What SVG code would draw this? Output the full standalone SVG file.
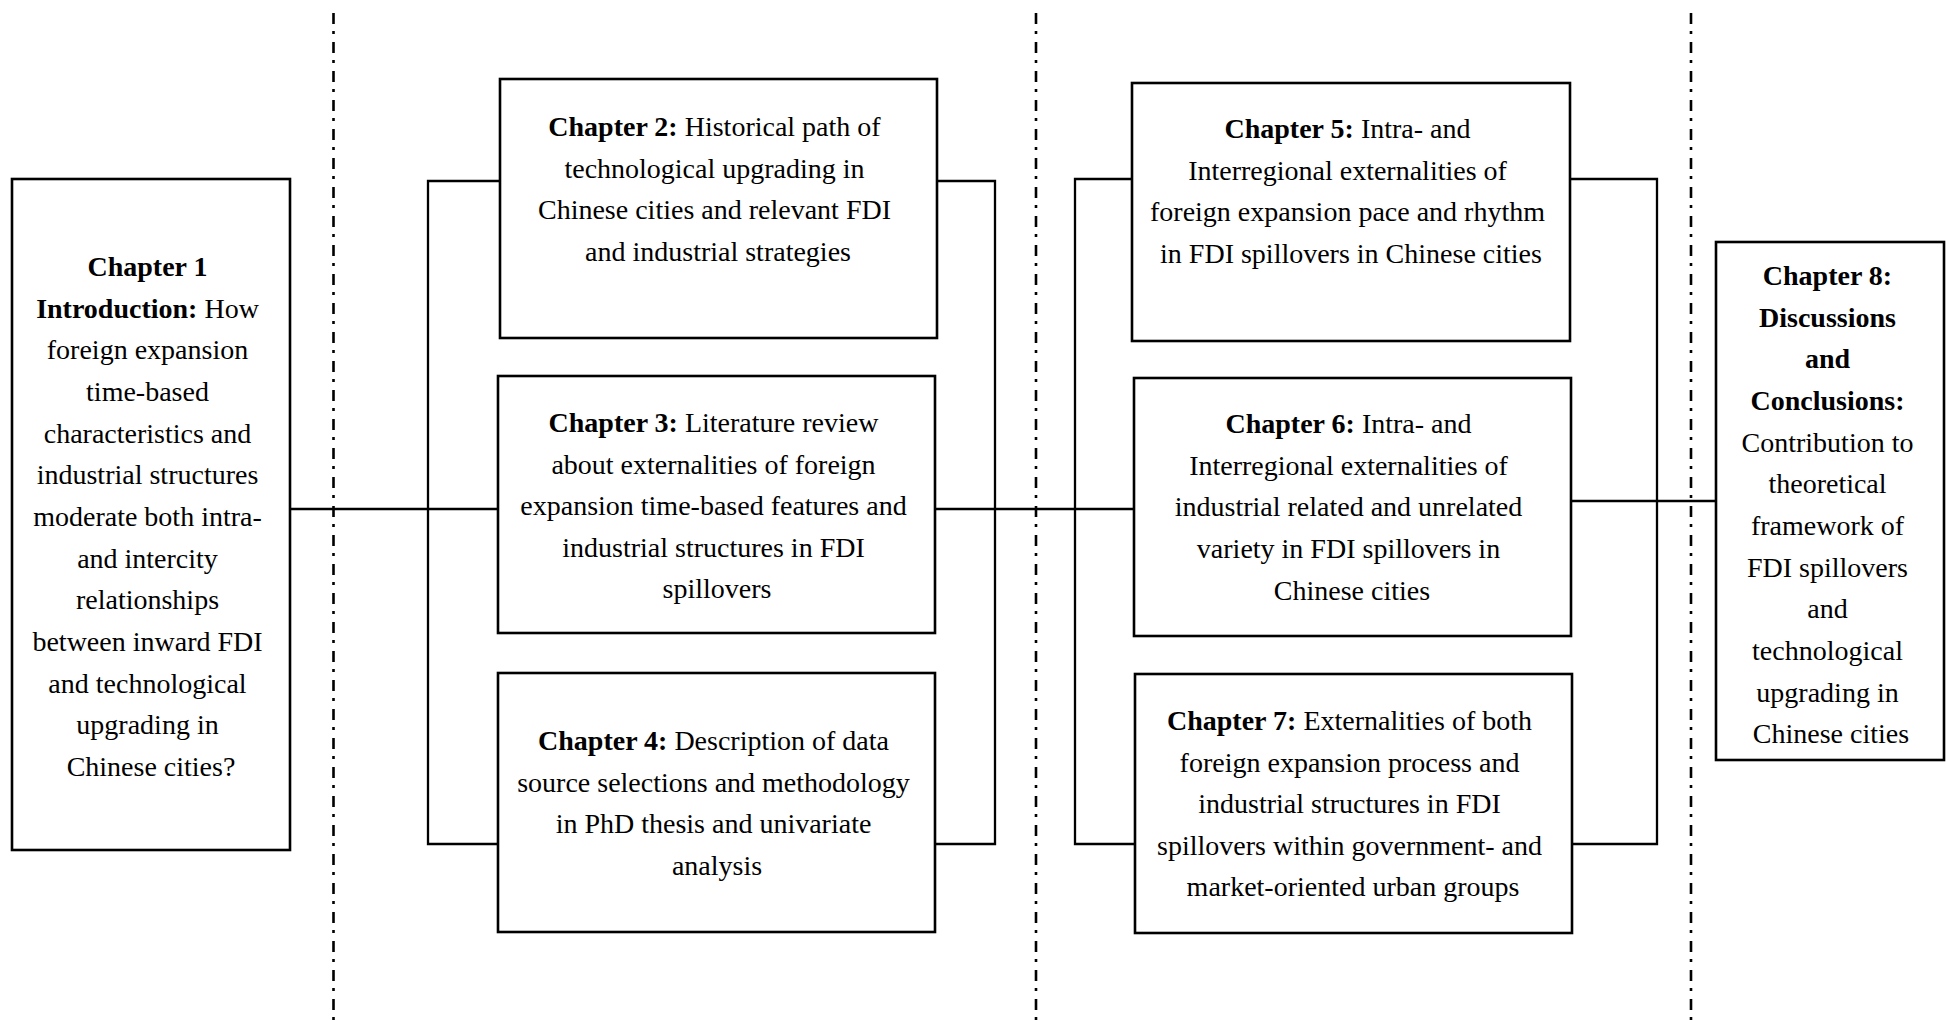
<svg xmlns="http://www.w3.org/2000/svg" width="1946" height="1020" viewBox="0 0 1946 1020">
<style>
.box{fill:#fff;stroke:#000;stroke-width:2.6}
.ln{fill:none;stroke:#000;stroke-width:2.3}
.dd{fill:none;stroke:#000;stroke-width:2.6;stroke-dasharray:11 7 3 8}
text{font-family:"Liberation Serif","Times New Roman",serif;font-size:28px;fill:#000;text-anchor:middle}
.b{font-weight:bold}
</style>
<rect width="1946" height="1020" fill="#fff"/>
<g id="dividers">
<line class="dd" x1="333.5" y1="13" x2="333.5" y2="1020"/>
<line class="dd" x1="1036" y1="13" x2="1036" y2="1020"/>
<line class="dd" x1="1691" y1="13" x2="1691" y2="1020"/>
</g>
<g id="connectors">
<path class="ln" d="M290 509H498"/>
<path class="ln" d="M500 181H428V844H498"/>
<path class="ln" d="M935 509H1134"/>
<path class="ln" d="M937 181H995V844H935"/>
<path class="ln" d="M1132 179H1075V844H1135"/>
<path class="ln" d="M1570 179H1657V844H1572"/>
<path class="ln" d="M1571 501H1716"/>
</g>
<g id="ch1">
<rect class="box" x="12" y="179" width="278" height="671"/>
<text x="151" y="276">
<tspan class="b">Chapter 1</tspan>
<tspan x="151" dy="41.67"><tspan class="b">Introduction:</tspan> How</tspan>
<tspan x="151" dy="41.67">foreign expansion</tspan>
<tspan x="151" dy="41.67">time-based</tspan>
<tspan x="151" dy="41.67">characteristics and</tspan>
<tspan x="151" dy="41.67">industrial structures</tspan>
<tspan x="151" dy="41.67">moderate both intra-</tspan>
<tspan x="151" dy="41.67">and intercity</tspan>
<tspan x="151" dy="41.67">relationships</tspan>
<tspan x="151" dy="41.67">between inward FDI</tspan>
<tspan x="151" dy="41.67">and technological</tspan>
<tspan x="151" dy="41.67">upgrading in</tspan>
<tspan x="151" dy="41.67">Chinese cities?</tspan>
</text>
</g>
<g id="ch2">
<rect class="box" x="500" y="79" width="437" height="259"/>
<text x="718" y="136">
<tspan class="b">Chapter 2:</tspan> Historical path of
<tspan x="718" dy="41.5">technological upgrading in</tspan>
<tspan x="718" dy="41.5">Chinese cities and relevant FDI</tspan>
<tspan x="718" dy="41.5">and industrial strategies</tspan>
</text>
</g>
<g id="ch3">
<rect class="box" x="498" y="376" width="437" height="257"/>
<text x="717" y="432">
<tspan class="b">Chapter 3:</tspan> Literature review
<tspan x="717" dy="41.5">about externalities of foreign</tspan>
<tspan x="717" dy="41.5">expansion time-based features and</tspan>
<tspan x="717" dy="41.5">industrial structures in FDI</tspan>
<tspan x="717" dy="41.5">spillovers</tspan>
</text>
</g>
<g id="ch4">
<rect class="box" x="498" y="673" width="437" height="259"/>
<text x="717" y="750">
<tspan class="b">Chapter 4:</tspan> Description of data
<tspan x="717" dy="41.67">source selections and methodology</tspan>
<tspan x="717" dy="41.67">in PhD thesis and univariate</tspan>
<tspan x="717" dy="41.67">analysis</tspan>
</text>
</g>
<g id="ch5">
<rect class="box" x="1132" y="83" width="438" height="258"/>
<text x="1351" y="138">
<tspan class="b">Chapter 5:</tspan> Intra- and
<tspan x="1351" dy="41.5">Interregional externalities of</tspan>
<tspan x="1351" dy="41.5">foreign expansion pace and rhythm</tspan>
<tspan x="1351" dy="41.5">in FDI spillovers in Chinese cities</tspan>
</text>
</g>
<g id="ch6">
<rect class="box" x="1134" y="378" width="437" height="258"/>
<text x="1352" y="433">
<tspan class="b">Chapter 6:</tspan> Intra- and
<tspan x="1352" dy="41.67">Interregional externalities of</tspan>
<tspan x="1352" dy="41.67">industrial related and unrelated</tspan>
<tspan x="1352" dy="41.67">variety in FDI spillovers in</tspan>
<tspan x="1352" dy="41.67">Chinese cities</tspan>
</text>
</g>
<g id="ch7">
<rect class="box" x="1135" y="674" width="437" height="259"/>
<text x="1353" y="730">
<tspan class="b">Chapter 7:</tspan> Externalities of both
<tspan x="1353" dy="41.5">foreign expansion process and</tspan>
<tspan x="1353" dy="41.5">industrial structures in FDI</tspan>
<tspan x="1353" dy="41.5">spillovers within government- and</tspan>
<tspan x="1353" dy="41.5">market-oriented urban groups</tspan>
</text>
</g>
<g id="ch8">
<rect class="box" x="1716" y="242" width="228" height="518"/>
<text x="1831" y="285">
<tspan class="b">Chapter 8:</tspan>
<tspan x="1831" dy="41.67" class="b">Discussions</tspan>
<tspan x="1831" dy="41.67" class="b">and</tspan>
<tspan x="1831" dy="41.67" class="b">Conclusions:</tspan>
<tspan x="1831" dy="41.67">Contribution to</tspan>
<tspan x="1831" dy="41.67">theoretical</tspan>
<tspan x="1831" dy="41.67">framework of</tspan>
<tspan x="1831" dy="41.67">FDI spillovers</tspan>
<tspan x="1831" dy="41.67">and</tspan>
<tspan x="1831" dy="41.67">technological</tspan>
<tspan x="1831" dy="41.67">upgrading in</tspan>
<tspan x="1831" dy="41.67">Chinese cities</tspan>
</text>
</g>
</svg>
